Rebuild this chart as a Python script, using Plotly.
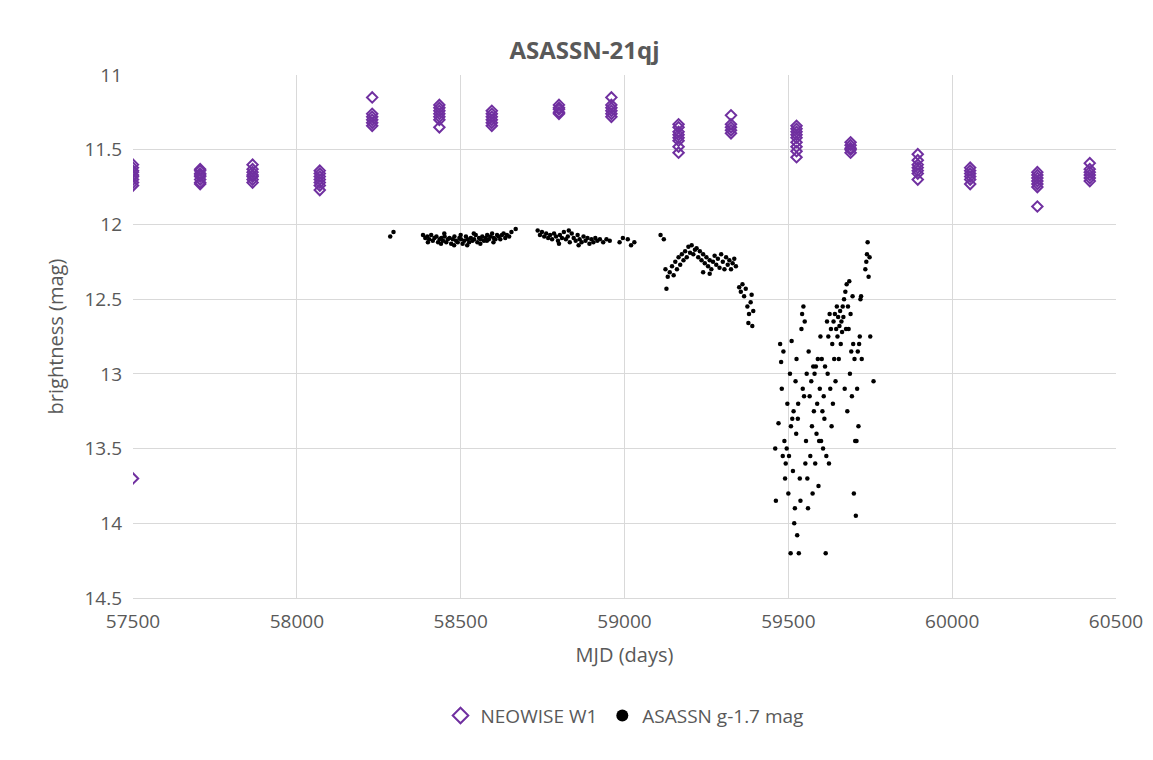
import plotly.graph_objects as go

# NEOWISE W1 epochs (MJD) and the magnitudes measured in each visit
neo_epochs = [57500, 57705, 57865, 58070, 58230, 58435, 58595, 58800, 58960,
              59165, 59325, 59525, 59690, 59895, 60055, 60260, 60420]
neo_mags = [
    [11.6, 11.62, 11.64, 11.65, 11.67, 11.68, 11.7, 11.72, 11.74, 13.7],
    [11.63, 11.64, 11.66, 11.67, 11.68, 11.7, 11.72, 11.73],
    [11.6, 11.63, 11.65, 11.67, 11.68, 11.7, 11.72],
    [11.64, 11.66, 11.68, 11.7, 11.72, 11.74, 11.77],
    [11.15, 11.26, 11.28, 11.3, 11.32, 11.34],
    [11.2, 11.22, 11.24, 11.26, 11.28, 11.3, 11.35],
    [11.24, 11.26, 11.28, 11.3, 11.32, 11.34],
    [11.2, 11.22, 11.23, 11.25, 11.26],
    [11.15, 11.2, 11.22, 11.24, 11.26, 11.28],
    [11.33, 11.35, 11.38, 11.4, 11.42, 11.44, 11.48, 11.52],
    [11.27, 11.33, 11.35, 11.37, 11.39],
    [11.34, 11.36, 11.38, 11.4, 11.42, 11.45, 11.48, 11.51, 11.55],
    [11.45, 11.47, 11.49, 11.5, 11.52],
    [11.53, 11.57, 11.6, 11.62, 11.64, 11.66, 11.7],
    [11.62, 11.64, 11.66, 11.68, 11.7, 11.73],
    [11.65, 11.67, 11.69, 11.71, 11.73, 11.75, 11.88],
    [11.59, 11.63, 11.65, 11.67, 11.69, 11.71],
]

# ASASSN g (shifted by -1.7 mag)
asassn_mjd = [
    58285, 58295,
    58385, 58392, 58398, 58404, 58410, 58415, 58420, 58426, 58431, 58436, 58441, 58446,
    58451, 58456, 58461, 58466, 58471, 58476, 58481, 58486, 58491, 58496, 58501, 58506,
    58511, 58516, 58521, 58526, 58531, 58536, 58541, 58546, 58551, 58556, 58561, 58566,
    58571, 58576, 58581, 58586, 58591, 58596, 58601, 58606, 58611, 58616, 58621, 58626,
    58631, 58636, 58641, 58648, 58655, 58668,
    58400, 58440, 58480, 58520, 58560, 58600, 58450, 58500, 58540, 58580,
    58735, 58742, 58748, 58755, 58761, 58767, 58773, 58779, 58785, 58791, 58797, 58803,
    58809, 58815, 58821, 58827, 58833, 58839, 58845, 58851, 58857, 58863, 58869, 58875,
    58881, 58887, 58893, 58899, 58905, 58911, 58917, 58925, 58935, 58945, 58955,
    58800, 58830, 58860,
    58985, 58995, 59010, 59020, 59030,
    59110, 59120, 59125, 59128, 59132, 59138, 59145, 59150, 59155, 59160, 59165, 59170,
    59175, 59180, 59185, 59190, 59195, 59200, 59205, 59210, 59215, 59220, 59225, 59230,
    59235, 59240, 59245, 59250, 59255, 59260, 59265, 59270, 59275, 59280, 59285, 59290,
    59295, 59300, 59305, 59310, 59315, 59320, 59325, 59330, 59335, 59340, 59240, 59260,
    59350, 59355, 59360, 59365, 59370, 59375, 59380, 59385, 59378, 59390, 59393, 59388,
    59460, 59462, 59470, 59475, 59478, 59480, 59483, 59485, 59488, 59490, 59492, 59495,
    59497, 59500, 59502, 59505, 59507, 59508, 59510, 59512, 59514, 59516, 59518, 59520,
    59522, 59524, 59525, 59527, 59529, 59530, 59532, 59535, 59537, 59540, 59542, 59544,
    59546, 59548, 59550, 59552, 59554, 59556, 59558, 59560, 59562, 59565, 59567, 59570,
    59572, 59574, 59576, 59578, 59580, 59582, 59584, 59586, 59588, 59590, 59592, 59594,
    59596, 59598, 59600, 59602, 59604, 59606, 59608, 59610, 59612, 59614, 59616, 59618,
    59620, 59622, 59624, 59626, 59628, 59630, 59632, 59634, 59636, 59638, 59640, 59642,
    59644, 59646, 59648, 59650, 59652, 59654, 59656, 59658, 59660, 59662, 59664, 59666,
    59668, 59670, 59672, 59674, 59676, 59678, 59680, 59682, 59684, 59686, 59688, 59690,
    59692, 59694, 59696, 59698, 59700, 59702, 59704, 59706, 59708, 59710, 59712, 59714,
    59716, 59718, 59720, 59722, 59724, 59735, 59738, 59740, 59742, 59745, 59748, 59750,
    59760,
]
asassn_mag = [
    12.08, 12.05,
    12.07, 12.09, 12.08, 12.1, 12.07, 12.11, 12.09, 12.08, 12.12, 12.1, 12.09, 12.11,
    12.08, 12.12, 12.1, 12.09, 12.13, 12.1, 12.08, 12.11, 12.12, 12.09, 12.1, 12.13,
    12.11, 12.08, 12.1, 12.12, 12.09, 12.11, 12.1, 12.07, 12.12, 12.09, 12.1, 12.08,
    12.11, 12.09, 12.07, 12.1, 12.08, 12.06, 12.09, 12.1, 12.07, 12.08, 12.1, 12.07,
    12.06, 12.09, 12.07, 12.08, 12.05, 12.03,
    12.12, 12.13, 12.14, 12.14, 12.13, 12.12, 12.06, 12.07, 12.06, 12.11,
    12.04, 12.07, 12.05, 12.08, 12.06, 12.09, 12.07, 12.1, 12.06, 12.08, 12.11, 12.07,
    12.09, 12.05, 12.1, 12.08, 12.12, 12.06, 12.09, 12.11, 12.07, 12.1, 12.12, 12.08,
    12.11, 12.09, 12.13, 12.1, 12.12, 12.09, 12.11, 12.1, 12.12, 12.1, 12.11,
    12.13, 12.04, 12.14,
    12.12, 12.09, 12.1, 12.14, 12.12,
    12.07, 12.1, 12.3, 12.43, 12.35, 12.32, 12.28, 12.34, 12.25, 12.3, 12.22, 12.27,
    12.2, 12.24, 12.18, 12.22, 12.15, 12.19, 12.14, 12.2, 12.17, 12.16, 12.22, 12.18,
    12.24, 12.2, 12.26, 12.22, 12.28, 12.24, 12.3, 12.25, 12.21, 12.27, 12.23, 12.29,
    12.2, 12.25, 12.3, 12.22, 12.27, 12.24, 12.3, 12.26, 12.23, 12.28, 12.32, 12.33,
    12.42, 12.45, 12.4, 12.48, 12.43, 12.55, 12.6, 12.52, 12.66, 12.68, 12.58, 12.47,
    13.5, 13.85, 13.33, 12.8, 12.92, 13.1, 13.55, 12.85, 13.45, 13.7, 13.6, 13.5,
    13.2, 13.8, 13.55, 13.0, 14.2, 13.35, 12.78, 13.3, 13.65, 13.25, 14.0, 13.9,
    13.05, 13.4, 12.9, 14.08, 13.3, 13.2, 14.2, 13.7, 13.85, 12.7, 12.6, 13.1,
    12.55, 13.15, 12.65, 13.6, 13.45, 13.0, 13.7, 13.9, 12.85, 13.15, 13.55, 13.05,
    13.35, 13.8, 12.95, 13.25, 13.0, 13.6, 12.95, 13.4, 13.2, 12.9, 13.75, 13.45,
    13.1, 12.75, 13.45, 12.9, 13.25, 13.5, 13.15, 13.3, 12.95, 14.2, 13.55, 12.65,
    13.0, 12.75, 13.6, 12.6, 13.1, 12.7, 13.35, 12.8, 13.2, 12.65, 12.9, 12.6,
    13.05, 12.7, 12.55, 12.75, 12.62, 12.9, 12.68, 12.58, 12.8, 12.65, 12.72, 12.55,
    12.62, 12.5, 13.1, 12.45, 12.7, 12.4, 13.25, 12.55, 12.7, 12.38, 13.0, 12.6,
    12.85, 13.15, 12.48, 12.8, 13.8, 12.9, 13.45, 13.95, 13.45, 13.1, 12.85, 13.35,
    12.8, 12.75, 12.5, 12.48, 12.9, 12.3, 12.25, 12.2, 12.12, 12.35, 12.22, 12.75,
    13.05,
]

neo_x = [e for e, mags in zip(neo_epochs, neo_mags) for _ in mags]
neo_y = [m for mags in neo_mags for m in mags]

font = "Open Sans"
grey = "#595959"

fig = go.Figure()
fig.add_trace(go.Scatter(
    x=neo_x, y=neo_y, mode="markers", name="NEOWISE W1",
    marker=dict(symbol="diamond-open", size=8, color="#7030A0", line=dict(width=2)),
))
fig.add_trace(go.Scatter(
    x=asassn_mjd, y=asassn_mag, mode="markers", name="ASASSN g-1.7 mag",
    marker=dict(symbol="circle", size=4.5, color="black"),
))

fig.update_layout(
    width=1153, height=760,
    paper_bgcolor="white", plot_bgcolor="white",
    margin=dict(l=125, r=45, t=67, b=170),
    font=dict(family=font, size=19, color=grey),
    title=dict(text="<b>ASASSN-21qj</b>", x=0.5, xanchor="center", y=0.955,
               font=dict(size=24, color=grey)),
    legend=dict(orientation="h", x=0.5, xanchor="center", y=-0.225, yanchor="middle",
                font=dict(size=19, color=grey), itemsizing="constant"),
    showlegend=True,
)
fig.update_xaxes(range=[57500, 60500], dtick=500, showgrid=True, gridcolor="#d9d9d9",
                 zeroline=False, showline=True, linecolor="#d9d9d9", ticks="",
                 ticklabelstandoff=6,
                 title=dict(text="MJD (days)", font=dict(size=20)), tickformat="d")
fig.update_yaxes(range=[14.5, 11], dtick=0.5, showgrid=True, gridcolor="#d9d9d9",
                 zeroline=False, showline=False, ticks="", ticklabelstandoff=10,
                 title=dict(text="brightness (mag)", font=dict(size=20)))

fig.write_html("out.html")
